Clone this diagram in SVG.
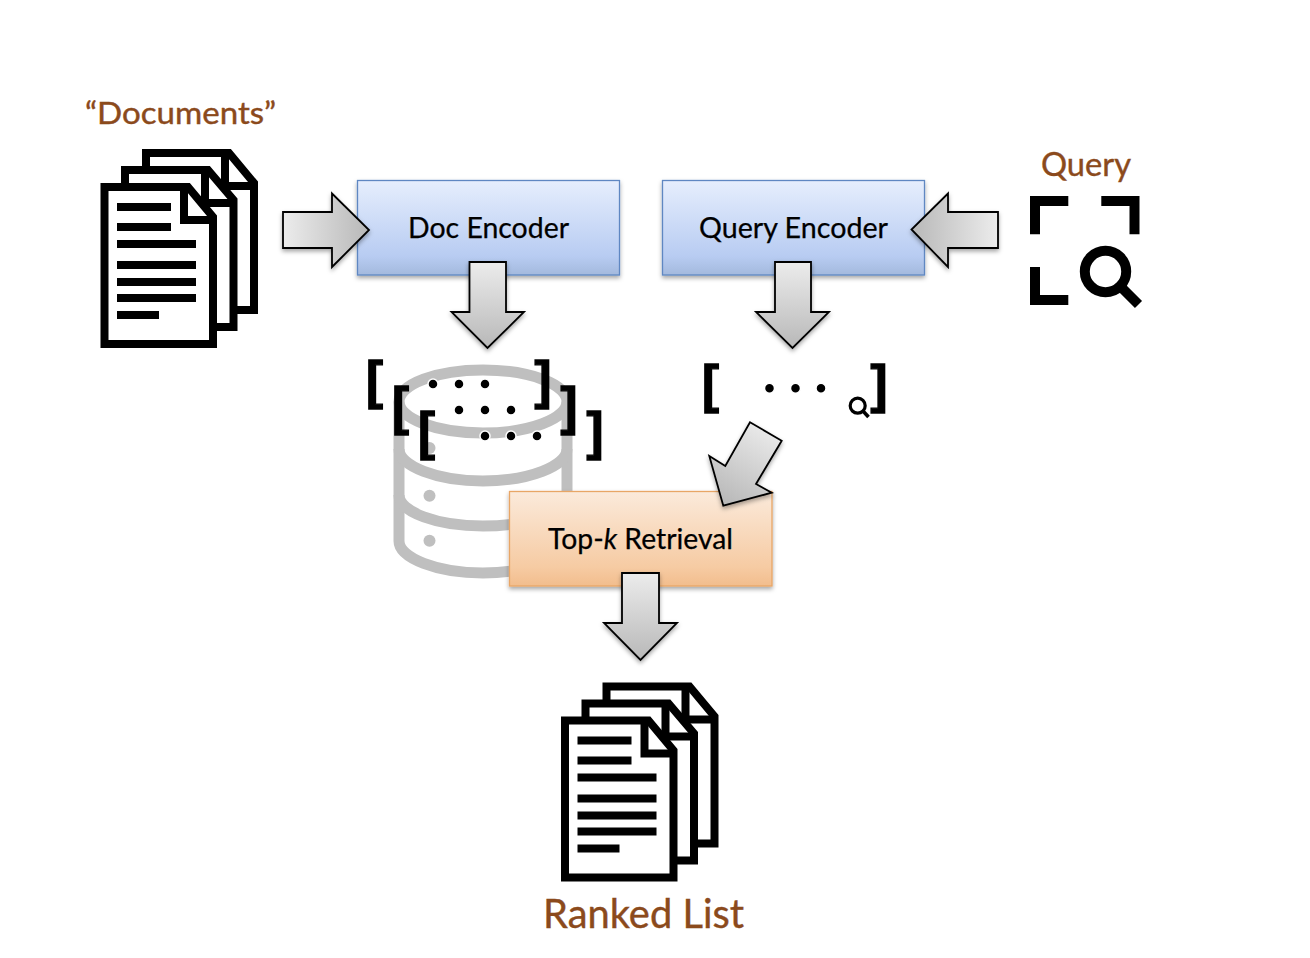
<svg xmlns="http://www.w3.org/2000/svg" xmlns:xlink="http://www.w3.org/1999/xlink" width="1310" height="958" viewBox="0 0 1310 958">
<defs>
<linearGradient id="gBlue" x1="0" y1="0" x2="0" y2="1"><stop offset="0" stop-color="#e6eefd"/><stop offset="0.8" stop-color="#b8ccf2"/><stop offset="1" stop-color="#a3b9dd"/></linearGradient>
<linearGradient id="gOrange" x1="0" y1="0" x2="0" y2="1"><stop offset="0" stop-color="#fbeadb"/><stop offset="0.8" stop-color="#f6cba3"/><stop offset="1" stop-color="#f2bd8d"/></linearGradient>
<linearGradient id="aR" x1="0" y1="0" x2="1" y2="0"><stop offset="0" stop-color="#ececec"/><stop offset="1" stop-color="#b8b8b8"/></linearGradient>
<linearGradient id="aL" x1="1" y1="0" x2="0" y2="0"><stop offset="0" stop-color="#ececec"/><stop offset="1" stop-color="#b8b8b8"/></linearGradient>
<linearGradient id="aD" x1="0" y1="0" x2="0" y2="1"><stop offset="0" stop-color="#ececec"/><stop offset="1" stop-color="#b8b8b8"/></linearGradient>
<linearGradient id="aG" x1="0.75" y1="0" x2="0.25" y2="1"><stop offset="0" stop-color="#ececec"/><stop offset="1" stop-color="#b8b8b8"/></linearGradient>
<filter id="sh" x="-15%" y="-15%" width="130%" height="135%"><feDropShadow dx="0" dy="2.5" stdDeviation="2.2" flood-color="#000" flood-opacity="0.35"/></filter>
<g id="doc">
<g class="pg"><path d="M146 153H229L254 183V310H146Z"/><path d="M225 153V186H254"/></g>
<g class="pg"><path d="M125 170H208L233.500 200V327H125Z"/><path d="M205 170V203H233.500"/></g>
<g class="pg"><path d="M104.500 187H188L213 217V344H104.500Z"/><path d="M184 187V220H213"/></g>
<path d="M117 203h54v8h-54zM117 223h54v8h-54zM117 240h79v8h-79zM117 261h79v8h-79zM117 278h79v8h-79zM117 294h79v8h-79zM117 311h42v8h-42z" fill="#000"/>
</g>
</defs>
<style>
.pg path{fill:#fff;stroke:#000;stroke-width:8}
.pg path+path{fill:none}
.lbl{font-family:"Lato","Noto Sans",sans-serif;fill:#8b4a1c;stroke:#8b4a1c;stroke-width:0.400}
.t{font-family:"Lato","Noto Sans",sans-serif;font-size:28px;fill:#000;stroke:#000;stroke-width:0.250}
.box{stroke-width:1.300;filter:url(#sh)}
.arr{stroke:#000;stroke-width:1.800;stroke-linejoin:miter;filter:url(#sh)}
.db{fill:none;stroke:#bfbfbf;stroke-width:11}
.br{font-family:"Liberation Sans",sans-serif;font-weight:700;font-size:51px;fill:#000;stroke:#000;stroke-width:1.400}
.dot{fill:#000;stroke:#fff;stroke-width:1.500}
.ic{fill:none;stroke:#000}
</style>
<rect width="1310" height="958" fill="#fff"/>

<g id="documents">
<text class="lbl" x="85" y="124" font-size="31" textLength="191" lengthAdjust="spacingAndGlyphs">“Documents”</text>
<use href="#doc"/>
</g>

<g id="database">
<ellipse class="db" cx="483" cy="401.500" rx="84" ry="31.500"/>
<path class="db" d="M399 401.500V541C399 558 437 573 483 573S567 558 567 541V401.500"/>
<path class="db" d="M399 449C399 466 437 481 483 481S567 466 567 449"/>
<path class="db" d="M399 495C399 512 437 526 483 526S567 512 567 495"/>
<circle cx="429.500" cy="448" r="6" fill="#bfbfbf"/>
<circle cx="429.500" cy="495.700" r="6" fill="#bfbfbf"/>
<circle cx="429.500" cy="540.700" r="6" fill="#bfbfbf"/>
</g>

<g id="doc-vectors">
<text class="br" x="366" y="398">[</text><text class="br" x="534.500" y="398">]</text>
<circle class="dot" cx="433" cy="384" r="5"/><circle class="dot" cx="459" cy="384" r="5"/><circle class="dot" cx="485" cy="384" r="5"/>
<text class="br" x="392" y="424">[</text><text class="br" x="560.500" y="424">]</text>
<circle class="dot" cx="459" cy="410" r="5"/><circle class="dot" cx="485" cy="410" r="5"/><circle class="dot" cx="511" cy="410" r="5"/>
<text class="br" x="418" y="449">[</text><text class="br" x="586.500" y="449">]</text>
<circle class="dot" cx="485" cy="436" r="5"/><circle class="dot" cx="511" cy="436" r="5"/><circle class="dot" cx="537" cy="436" r="5"/>
</g>

<g id="query-vector">
<text class="br" x="702" y="402">[</text><text class="br" x="870.500" y="402">]</text>
<circle class="dot" cx="769.500" cy="388.300" r="5"/><circle class="dot" cx="795.500" cy="388.300" r="5"/><circle class="dot" cx="821" cy="388.300" r="5"/>
<circle class="ic" cx="857.700" cy="405.700" r="7.500" stroke-width="3.200"/>
<path class="ic" d="M862.800 410.800L868.500 417" stroke-width="3.600"/>
</g>

<g id="doc-encoder">
<rect class="box" x="357.500" y="180.500" width="262" height="94.500" fill="url(#gBlue)" stroke="#5f87c2"/>
<text class="t" x="408" y="238" textLength="161" lengthAdjust="spacingAndGlyphs">Doc Encoder</text>
</g>
<g id="query-encoder">
<rect class="box" x="662.500" y="180.500" width="262" height="94.500" fill="url(#gBlue)" stroke="#5f87c2"/>
<text class="t" x="699" y="238" textLength="189" lengthAdjust="spacingAndGlyphs">Query Encoder</text>
</g>
<g id="topk">
<rect class="box" x="509.500" y="491.500" width="262.500" height="94.500" fill="url(#gOrange)" stroke="#e8a666"/>
<text class="t" x="548" y="549" textLength="185" lengthAdjust="spacingAndGlyphs">Top-<tspan font-style="italic">k</tspan> Retrieval</text>
</g>

<g id="query">
<text class="lbl" x="1041" y="176" font-size="32" textLength="90" lengthAdjust="spacingAndGlyphs">Query</text>
<path class="ic" stroke-width="10" d="M1035 234.300V201H1068.300M1101.300 201H1134.500V234.300M1035 267V300H1068.300"/>
<circle class="ic" cx="1105.500" cy="271.500" r="20.700" stroke-width="10"/>
<path class="ic" stroke-width="10" d="M1120 286L1138.500 304.500"/>
</g>

<g id="ranked-list">
<use href="#doc" x="460.500" y="533.500"/>
<text class="lbl" x="543" y="928" font-size="40" textLength="201" lengthAdjust="spacingAndGlyphs">Ranked List</text>
</g>

<g id="connectors">
<path class="arr" fill="url(#aR)" d="M283 212H332V193.500L369 230L332 267V248H283Z"/>
<path class="arr" fill="url(#aL)" d="M998 212H948V193.500L911.500 229.500L948 267V248H998Z"/>
<path class="arr" fill="url(#aD)" d="M469.500 262H506V312H524L487.500 348L451.500 312H469.500Z"/>
<path class="arr" fill="url(#aD)" d="M775 262H811V312H829L792.500 348L756 312H775Z"/>
<path class="arr" fill="url(#aD)" d="M622 573H659V623H677L640.500 660L604 623H622Z"/>
<path class="arr" fill="url(#aG)" d="M750 422.300L781.700 440.700L756 484L771.700 492.700L723.300 505.700L709.300 456L725.300 466Z"/>
</g>
</svg>
